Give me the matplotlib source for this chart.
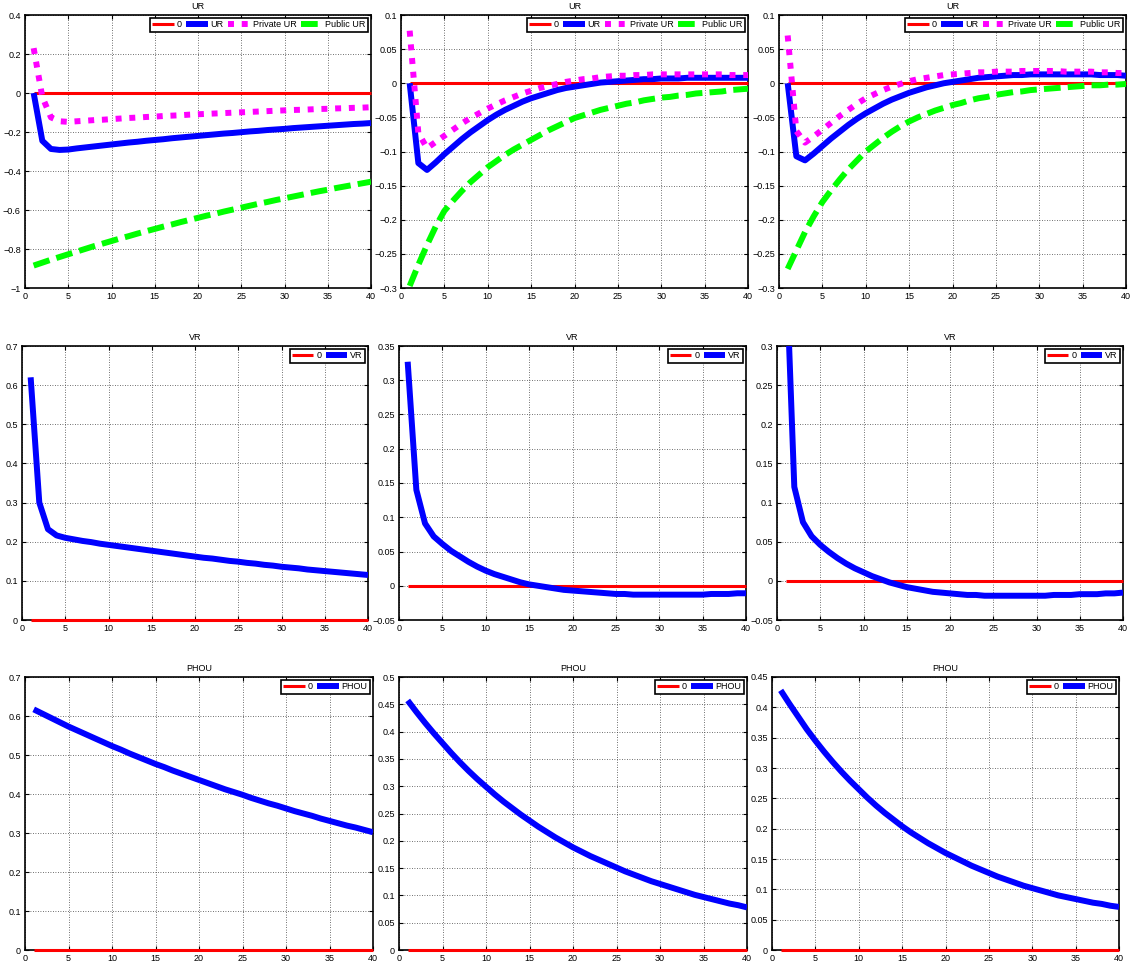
import matplotlib
matplotlib.use("Agg")
import matplotlib.pyplot as plt
from matplotlib.ticker import FuncFormatter
import numpy as np

plt.rcParams['font.family'] = ['Liberation Sans', 'DejaVu Sans']

periods = list(range(1, 41))
zero = [0.0] * 40

# UR responses (three model variants)
ur_c1 = [0.0, -0.245, -0.287, -0.292, -0.290, -0.284, -0.279, -0.274, -0.269, -0.264,
         -0.259, -0.254, -0.250, -0.245, -0.241, -0.237, -0.232, -0.228, -0.224, -0.220,
         -0.216, -0.212, -0.208, -0.205, -0.201, -0.197, -0.194, -0.190, -0.187, -0.184,
         -0.180, -0.177, -0.174, -0.171, -0.168, -0.165, -0.162, -0.159, -0.157, -0.154]
ur_private_c1 = [0.23, -0.02, -0.125, -0.145, -0.148, -0.145, -0.142, -0.139, -0.137, -0.134,
                 -0.131, -0.128, -0.126, -0.123, -0.121, -0.118, -0.116, -0.114, -0.111, -0.109,
                 -0.107, -0.105, -0.103, -0.101, -0.099, -0.097, -0.095, -0.093, -0.091, -0.089,
                 -0.087, -0.086, -0.084, -0.082, -0.081, -0.079, -0.078, -0.076, -0.075, -0.073]
ur_public_c1 = [-0.885, -0.870, -0.855, -0.841, -0.827, -0.813, -0.799, -0.785, -0.772, -0.759,
                -0.746, -0.734, -0.721, -0.709, -0.697, -0.685, -0.674, -0.662, -0.651, -0.640,
                -0.629, -0.619, -0.608, -0.598, -0.588, -0.578, -0.568, -0.559, -0.549, -0.540,
                -0.531, -0.522, -0.513, -0.504, -0.496, -0.487, -0.479, -0.471, -0.463, -0.455]

ur_c2 = [0.0, -0.117, -0.127, -0.116, -0.104, -0.093, -0.082, -0.072, -0.063, -0.054,
         -0.046, -0.039, -0.033, -0.027, -0.022, -0.018, -0.014, -0.010, -0.007, -0.005,
         -0.003, -0.001, 0.001, 0.002, 0.003, 0.004, 0.005, 0.006, 0.006, 0.007,
         0.007, 0.007, 0.008, 0.008, 0.008, 0.008, 0.008, 0.008, 0.008, 0.008]
ur_private_c2 = [0.077, -0.073, -0.095, -0.086, -0.077, -0.068, -0.059, -0.051, -0.044, -0.037,
                 -0.031, -0.025, -0.020, -0.015, -0.011, -0.007, -0.004, -0.001, 0.002, 0.004,
                 0.006, 0.007, 0.009, 0.010, 0.011, 0.011, 0.012, 0.012, 0.013, 0.013,
                 0.013, 0.013, 0.013, 0.013, 0.013, 0.013, 0.013, 0.012, 0.012, 0.012]
ur_public_c2 = [-0.297, -0.266, -0.237, -0.210, -0.187, -0.172, -0.158, -0.145, -0.134, -0.123,
                -0.114, -0.105, -0.097, -0.090, -0.083, -0.076, -0.069, -0.063, -0.057, -0.051,
                -0.047, -0.043, -0.039, -0.036, -0.033, -0.030, -0.028, -0.025, -0.023, -0.021,
                -0.020, -0.018, -0.017, -0.015, -0.014, -0.013, -0.012, -0.010, -0.009, -0.008]

ur_c3 = [0.0, -0.107, -0.113, -0.103, -0.092, -0.081, -0.071, -0.061, -0.052, -0.044,
         -0.037, -0.030, -0.024, -0.019, -0.014, -0.010, -0.006, -0.003, 0.000, 0.002,
         0.004, 0.006, 0.008, 0.009, 0.010, 0.011, 0.012, 0.012, 0.013, 0.013,
         0.013, 0.013, 0.013, 0.013, 0.013, 0.013, 0.012, 0.012, 0.012, 0.011]
ur_private_c3 = [0.070, -0.070, -0.087, -0.078, -0.068, -0.058, -0.048, -0.039, -0.030, -0.022,
                 -0.016, -0.010, -0.005, -0.001, 0.003, 0.006, 0.008, 0.010, 0.012, 0.013,
                 0.014, 0.015, 0.016, 0.016, 0.017, 0.017, 0.017, 0.018, 0.018, 0.018,
                 0.018, 0.018, 0.017, 0.017, 0.017, 0.017, 0.016, 0.016, 0.015, 0.015]
ur_public_c3 = [-0.272, -0.245, -0.218, -0.195, -0.174, -0.157, -0.141, -0.126, -0.113, -0.100,
                -0.090, -0.080, -0.071, -0.063, -0.056, -0.050, -0.045, -0.040, -0.036, -0.032,
                -0.029, -0.025, -0.022, -0.020, -0.017, -0.015, -0.013, -0.012, -0.010, -0.009,
                -0.008, -0.007, -0.006, -0.005, -0.004, -0.003, -0.003, -0.002, -0.002, -0.001]

# VR responses
vr_c1 = [0.620, 0.300, 0.232, 0.216, 0.210, 0.206, 0.202, 0.199, 0.195, 0.192,
         0.189, 0.186, 0.183, 0.180, 0.177, 0.174, 0.171, 0.168, 0.165, 0.162,
         0.159, 0.157, 0.154, 0.151, 0.149, 0.146, 0.144, 0.141, 0.139, 0.136,
         0.134, 0.132, 0.129, 0.127, 0.125, 0.123, 0.121, 0.119, 0.117, 0.115]
vr_c2 = [0.327, 0.140, 0.091, 0.072, 0.061, 0.051, 0.043, 0.035, 0.028, 0.022,
         0.017, 0.013, 0.009, 0.005, 0.002, 0.000, -0.002, -0.004, -0.006, -0.007,
         -0.008, -0.009, -0.010, -0.011, -0.012, -0.012, -0.013, -0.013, -0.013, -0.013,
         -0.013, -0.013, -0.013, -0.013, -0.013, -0.012, -0.012, -0.012, -0.011, -0.011]
vr_c3 = [0.420, 0.120, 0.075, 0.057, 0.046, 0.037, 0.029, 0.022, 0.016, 0.011,
         0.006, 0.002, -0.002, -0.005, -0.008, -0.010, -0.012, -0.014, -0.015, -0.016,
         -0.017, -0.018, -0.018, -0.019, -0.019, -0.019, -0.019, -0.019, -0.019, -0.019,
         -0.019, -0.018, -0.018, -0.018, -0.017, -0.017, -0.017, -0.016, -0.016, -0.015]

# PHOU responses
phou_c1 = [0.617, 0.606, 0.595, 0.584, 0.573, 0.563, 0.553, 0.543, 0.533, 0.523,
           0.514, 0.504, 0.495, 0.486, 0.477, 0.469, 0.460, 0.452, 0.444, 0.436,
           0.428, 0.420, 0.412, 0.405, 0.398, 0.390, 0.383, 0.376, 0.370, 0.363,
           0.356, 0.350, 0.344, 0.337, 0.331, 0.325, 0.319, 0.314, 0.308, 0.302]
phou_c2 = [0.457, 0.436, 0.416, 0.397, 0.379, 0.361, 0.344, 0.328, 0.313, 0.299,
           0.285, 0.272, 0.260, 0.248, 0.237, 0.226, 0.216, 0.206, 0.197, 0.188,
           0.180, 0.172, 0.165, 0.158, 0.151, 0.144, 0.138, 0.132, 0.126, 0.121,
           0.116, 0.111, 0.106, 0.101, 0.097, 0.093, 0.089, 0.085, 0.082, 0.078]
phou_c3 = [0.428, 0.406, 0.385, 0.364, 0.345, 0.327, 0.310, 0.294, 0.279, 0.265,
           0.251, 0.238, 0.226, 0.215, 0.204, 0.194, 0.185, 0.176, 0.168, 0.160,
           0.153, 0.146, 0.139, 0.133, 0.127, 0.121, 0.116, 0.111, 0.106, 0.102,
           0.098, 0.094, 0.090, 0.087, 0.084, 0.081, 0.078, 0.076, 0.073, 0.071]

W, H = 1131, 963
fig = plt.figure(figsize=(W / 100, H / 100), dpi=100)
fig.patch.set_facecolor('white')

FS = 6.5


def make_axes(left, right, top, bottom):
    return fig.add_axes([left / W, 1 - bottom / H, (right - left) / W, (bottom - top) / H])


def tick_fmt(v, pos):
    v = round(v, 4)
    if abs(v) < 1e-9:
        return '0'
    return ('%g' % v).replace('-', '\u2212')


def style(ax, title, ylim, ystep):
    ax.set_xlim(0, 40)
    ax.set_ylim(*ylim)
    ax.set_xticks(np.arange(0, 41, 5))
    ax.set_yticks(np.arange(ylim[0], ylim[1] + ystep / 2, ystep))
    ax.yaxis.set_major_formatter(FuncFormatter(tick_fmt))
    ax.tick_params(direction='in', length=3, width=0.8, labelsize=FS, pad=3,
                   top=True, right=True)
    ax.grid(True, color='0.25', linestyle=(0, (1, 2)), linewidth=0.6)
    for s in ax.spines.values():
        s.set_linewidth(1.2)
    ax.set_title(title, fontsize=FS, pad=4)


def legend(ax, ncol):
    lg = ax.legend(loc='upper right', ncol=ncol, fontsize=FS, handlelength=2.4,
                   handletextpad=0.3, columnspacing=0.5, borderpad=0.25,
                   borderaxespad=0.35, fancybox=False, framealpha=1)
    lg.get_frame().set_edgecolor('black')
    lg.get_frame().set_linewidth(1.2)


def ur_panel(ax, ur, priv, pub):
    ax.plot(periods, zero, color='red', lw=2.2, label='0', clip_on=False,
            solid_capstyle='butt', zorder=3)
    ax.plot(periods, ur, color='blue', lw=4.3, label='UR', solid_capstyle='butt', zorder=3)
    ax.plot(periods, priv, color='magenta', lw=4.3, linestyle=(0, (1, 1.3)),
            dash_capstyle='butt', label='Private UR', zorder=3)
    ax.plot(periods, pub, color='#00ff00', lw=4.3, linestyle=(0, (2.8, 1.2)),
            dash_capstyle='butt', label='Public UR', zorder=3)
    legend(ax, 4)


def single_panel(ax, vals, name):
    ax.plot(periods, zero, color='red', lw=2.2, label='0', clip_on=False,
            solid_capstyle='butt', zorder=3)
    ax.plot(periods, vals, color='blue', lw=4.3, label=name, solid_capstyle='butt', zorder=3)
    legend(ax, 2)


# row 1: UR
ax = make_axes(25, 371, 15, 288)
ur_panel(ax, ur_c1, ur_private_c1, ur_public_c1)
style(ax, 'UR', (-1, 0.4), 0.2)
ax = make_axes(401, 748, 15, 288)
ur_panel(ax, ur_c2, ur_private_c2, ur_public_c2)
style(ax, 'UR', (-0.3, 0.1), 0.05)
ax = make_axes(779, 1126, 15, 288)
ur_panel(ax, ur_c3, ur_private_c3, ur_public_c3)
style(ax, 'UR', (-0.3, 0.1), 0.05)

# row 2: VR
ax = make_axes(22, 368, 346, 620)
single_panel(ax, vr_c1, 'VR')
style(ax, 'VR', (0, 0.7), 0.1)
ax = make_axes(399, 746, 346, 620)
single_panel(ax, vr_c2, 'VR')
style(ax, 'VR', (-0.05, 0.35), 0.05)
ax = make_axes(777, 1123, 346, 620)
single_panel(ax, vr_c3, 'VR')
style(ax, 'VR', (-0.05, 0.3), 0.05)

# row 3: PHOU
ax = make_axes(25, 373, 677, 950)
single_panel(ax, phou_c1, 'PHOU')
style(ax, 'PHOU', (0, 0.7), 0.1)
ax = make_axes(399, 747, 677, 950)
single_panel(ax, phou_c2, 'PHOU')
style(ax, 'PHOU', (0, 0.5), 0.05)
ax = make_axes(772, 1119, 677, 950)
single_panel(ax, phou_c3, 'PHOU')
style(ax, 'PHOU', (0, 0.45), 0.05)

fig.savefig('out.png', dpi=100)
